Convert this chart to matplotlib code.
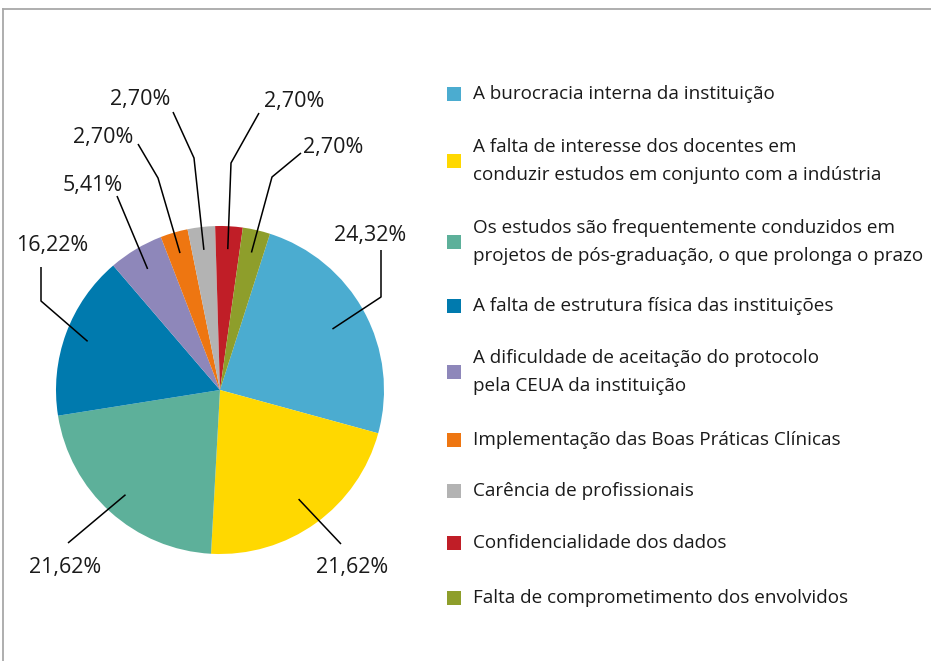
import matplotlib
matplotlib.use("Agg")
import matplotlib.pyplot as plt
from matplotlib.patches import Rectangle
from matplotlib.lines import Line2D
import numpy as np

plt.rcParams['font.family'] = ['Open Sans', 'DejaVu Sans']

# ---- data ----
categories = [
    "A burocracia interna da instituição",
    "A falta de interesse dos docentes em\nconduzir estudos em conjunto com a indústria",
    "Os estudos são frequentemente conduzidos em\nprojetos de pós-graduação, o que prolonga o prazo",
    "A falta de estrutura física das instituições",
    "A dificuldade de aceitação do protocolo\npela CEUA da instituição",
    "Implementação das Boas Práticas Clínicas",
    "Carência de profissionais",
    "Confidencialidade dos dados",
    "Falta de comprometimento dos envolvidos",
]
values = [24.32, 21.62, 21.62, 16.22, 5.41, 2.70, 2.70, 2.70, 2.70]
colors = ["#4BACD0", "#FFD800", "#5DB09A", "#007AAE", "#8E87BA",
          "#EE7611", "#B3B3B3", "#C01E27", "#8E9E2B"]
pct_labels = [f"{v:.2f}".replace(".", ",") + "%" for v in values]

# ---- layout (pixel coordinates, y downward) ----
W, H = 931, 661
center = (220, 390)
radius = 164
rotation_offset = -1.7
anchor_frac = [0.78, 0.82, 0.86, 0.86, 0.86, 0.87, 0.86, 0.86, 0.86]
# elbow points of leader lines (from anchor outward) and label centers
elbows = [
    [(381, 297), (381, 250)],
    [(341, 544)],
    [(68, 543)],
    [(41, 301), (41, 267)],
    [(117, 196)],
    [(158, 178), (138, 144)],
    [(194, 158), (173, 112)],
    [(231, 163), (259, 113)],
    [(272, 177), (301, 153)],
]
label_pos = [(370, 236), (352, 567), (65, 567), (52, 246), (93, 186),
             (103, 137), (140, 99), (294, 102), (333, 147)]
legend_y = [94, 161, 242, 306, 372, 440, 491, 543, 598]

fig = plt.figure(figsize=(W / 100, H / 100), dpi=100)
ax = fig.add_axes([0, 0, 1, 1])

total = sum(values)
start = -90 + 360 * (values[-1] + values[-2]) / total + rotation_offset
wedges, _ = ax.pie(values, colors=colors, center=center, radius=radius,
                   startangle=start, counterclock=True,
                   wedgeprops=dict(linewidth=0))
ax.set_xlim(0, W)
ax.set_ylim(H, 0)
ax.set_aspect('equal')
ax.axis('off')

for w, f, el, lp, txt in zip(wedges, anchor_frac, elbows, label_pos, pct_labels):
    mid = np.deg2rad((w.theta1 + w.theta2) / 2)
    ax_pt = (center[0] + f * radius * np.cos(mid), center[1] + f * radius * np.sin(mid))
    pts = [ax_pt] + el
    xs = [p[0] for p in pts]
    ys = [p[1] for p in pts]
    ax.plot(xs, ys, color='black', lw=1.1, solid_capstyle='butt')
    ax.text(lp[0], lp[1], txt, ha='center', va='center', fontsize=15.5, color='#1a1a1a')

# legend
for y, c, cat in zip(legend_y, colors, categories):
    ax.add_patch(Rectangle((447, y - 7), 14, 14, facecolor=c, edgecolor='none'))
    ax.text(473, y, cat, ha='left', va='center', fontsize=13.6, color='#1a1a1a',
            linespacing=1.66)

# frame
ax.add_line(Line2D([3, W], [9, 9], color='#a8a8a8', lw=1.3))
ax.add_line(Line2D([3, 3], [9, H], color='#a8a8a8', lw=1.3))

fig.savefig("out.png", dpi=100)
